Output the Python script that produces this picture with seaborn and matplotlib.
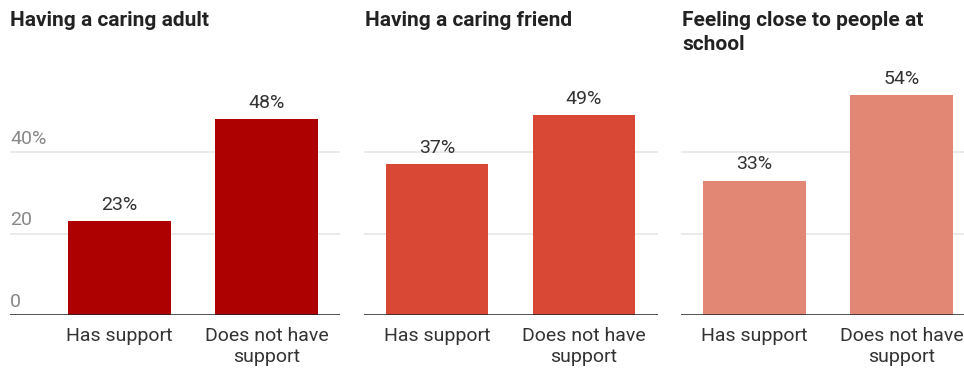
import matplotlib
matplotlib.use("Agg")
import matplotlib.pyplot as plt
import matplotlib.transforms as mtransforms
import seaborn as sns
import pandas as pd

sns.set_theme(style="white")
plt.rcParams['font.family'] = ['Roboto', 'DejaVu Sans']

titles = ["Having a caring adult", "Having a caring friend", "Feeling close to people at\nschool"]
categories = ["Has support", "Does not have\nsupport"]
adult_values = [23, 48]
friend_values = [37, 49]
school_values = [33, 54]
series_values = [adult_values, friend_values, school_values]
colors = ["#AD0000", "#D84834", "#E38775"]
y_ticks = [0, 20, 40]
y_tick_labels = ["0", "20", "40%"]

W, H = 964, 369
fig = plt.figure(figsize=(W / 100, H / 100), dpi=100)

unit = 147.0          # px per category
px_per_val = 4.075    # px per percentage point
base_y = 315.0
ymax = 58
ax_bottom = (H - base_y) / H
ax_height = ymax * px_per_val / H

# (left px, xlim left, title x px)
panels = [(10, -109.5 / unit, 10), (363.5, -0.5, 365), (681, -0.5, 682)]

for i, (left_px, xl, tx) in enumerate(panels):
    width_px = (1.5 - xl) * unit
    ax = fig.add_axes([left_px / W, ax_bottom, width_px / W, ax_height])
    df = pd.DataFrame({"cat": categories, "val": series_values[i]})
    sns.barplot(data=df, x="cat", y="val", color=colors[i], width=0.7,
                linewidth=0, saturation=1, ax=ax, zorder=2)
    ax.set_xlim(xl, 1.5)
    ax.set_ylim(0, ymax)
    ax.set_xlabel("")
    ax.set_ylabel("")
    for s in ax.spines.values():
        s.set_visible(False)
    ax.set_yticks(y_ticks)
    ax.set_yticklabels([])
    ax.tick_params(axis='y', length=0)
    ax.tick_params(axis='x', length=0, pad=8.5, labelsize=14, labelcolor="#333333")
    for lab in ax.get_xticklabels():
        lab.set_linespacing(1.2)
    for v in y_ticks[1:]:
        ax.axhline(v, color="#e6e6e6", lw=1.2, zorder=1)
    ax.axhline(0, color="#222222", lw=1.1, zorder=3)
    for j, v in enumerate(series_values[i]):
        ax.annotate(f"{v}%", (j, v), xytext=(0, 8), textcoords="offset points",
                    ha="center", va="baseline", fontsize=14, color="#333333")
    if i == 0:
        trans = mtransforms.blended_transform_factory(ax.transAxes, ax.transData)
        for v, lab in zip(y_ticks, y_tick_labels):
            ax.annotate(lab, (0, v), xycoords=trans, xytext=(0, 5.8),
                        textcoords="offset points", ha="left", va="baseline",
                        fontsize=14, color="#888888")
    for k, line in enumerate(titles[i].split("\n")):
        fig.text(tx / W, 1 - (26.5 + 23 * k) / H, line, ha="left", va="baseline",
                 fontsize=15, fontweight="bold", color="#222222")

fig.savefig("out.png", dpi=100)
